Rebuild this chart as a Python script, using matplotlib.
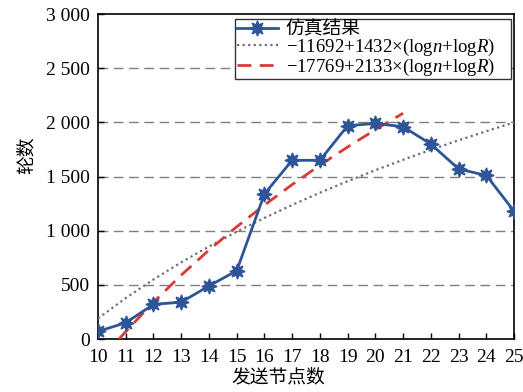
import matplotlib
matplotlib.use("Agg")
import matplotlib.pyplot as plt
from matplotlib.ticker import FuncFormatter

plt.rcParams['font.family'] = ['Liberation Serif', 'Noto Sans CJK SC', 'DejaVu Sans']
plt.rcParams['mathtext.fontset'] = 'custom'
plt.rcParams['mathtext.rm'] = 'Liberation Serif'
plt.rcParams['mathtext.it'] = 'Liberation Serif:italic'

nodes = [10, 11, 12, 13, 14, 15, 16, 17, 18, 19, 20, 21, 22, 23, 24, 25]
sim_rounds = [70, 150, 320, 340, 490, 630, 1340, 1650, 1650, 1970, 1990, 1960, 1800, 1570, 1510, 1180]

fit1_x = [10, 11, 12, 13, 14, 15, 16, 17, 18, 19, 20, 21, 22, 23, 24, 25]
fit1_y = [190, 378, 550, 708, 854, 991, 1118, 1238, 1351, 1457, 1559, 1655, 1747, 1835, 1919, 2000]

fit2_x = [10.76, 11, 12, 13, 14, 15, 16, 17, 18, 19, 20, 21]
fit2_y = [0, 69, 340, 590, 821, 1036, 1237, 1426, 1605, 1773, 1933, 2085]

labels = ['仿真结果',
          r'$-$11692+1432×(log$n$+log$R$)',
          r'$-$17769+2133×(log$n$+log$R$)']

fig = plt.figure(figsize=(5.23, 3.92), dpi=100)
ax = fig.add_axes([0.1874, 0.1352, 0.7956, 0.8288])

ax.plot(nodes, sim_rounds, color='#2E5597', lw=2.0, marker=(8, 1, 0), markersize=11,
        markeredgewidth=1.0, label=labels[0], zorder=5)
ax.plot(fit1_x, fit1_y, color='#6F6F6F', lw=1.6, linestyle=(0, (1, 1.5)), label=labels[1], zorder=4)
ax.plot(fit2_x, fit2_y, color='#DA3A34', lw=2.0, linestyle=(0, (5, 3)), label=labels[2], zorder=4)

ax.set_xlim(10, 25)
ax.set_ylim(0, 3000)
ax.set_xticks(nodes)
ax.set_yticks([0, 500, 1000, 1500, 2000, 2500, 3000])
ax.yaxis.set_major_formatter(FuncFormatter(lambda v, p: f'{int(v):,}'.replace(',', ' ')))
for y in [500, 1000, 1500, 2000, 2500]:
    ax.axhline(y, color='#7F7F7F', lw=1.0, linestyle=(0, (7, 4)), zorder=1)

ax.tick_params(direction='in', labelsize=14, length=4, width=1)
ax.tick_params(axis='x', pad=7.5)
ax.tick_params(axis='y', pad=6)
for s in ax.spines.values():
    s.set_linewidth(1.2)

ax.set_xlabel('发送节点数', fontsize=13.5)
ax.set_ylabel('轮数', fontsize=13.5)
ax.xaxis.set_label_coords(0.433, -0.092)
ax.yaxis.set_label_coords(-0.150, 0.566)

leg = ax.legend(loc='upper right', fontsize=13.5, frameon=True, fancybox=False,
                edgecolor='#333333', framealpha=1, borderpad=0.1, labelspacing=-0.08,
                handlelength=2.2, handletextpad=0.4, borderaxespad=0.0,
                mode='expand', bbox_to_anchor=(0.329, 0.806, 0.664, 0.179))
leg.get_frame().set_linewidth(1.0)

fig.savefig('out.png', dpi=100)
